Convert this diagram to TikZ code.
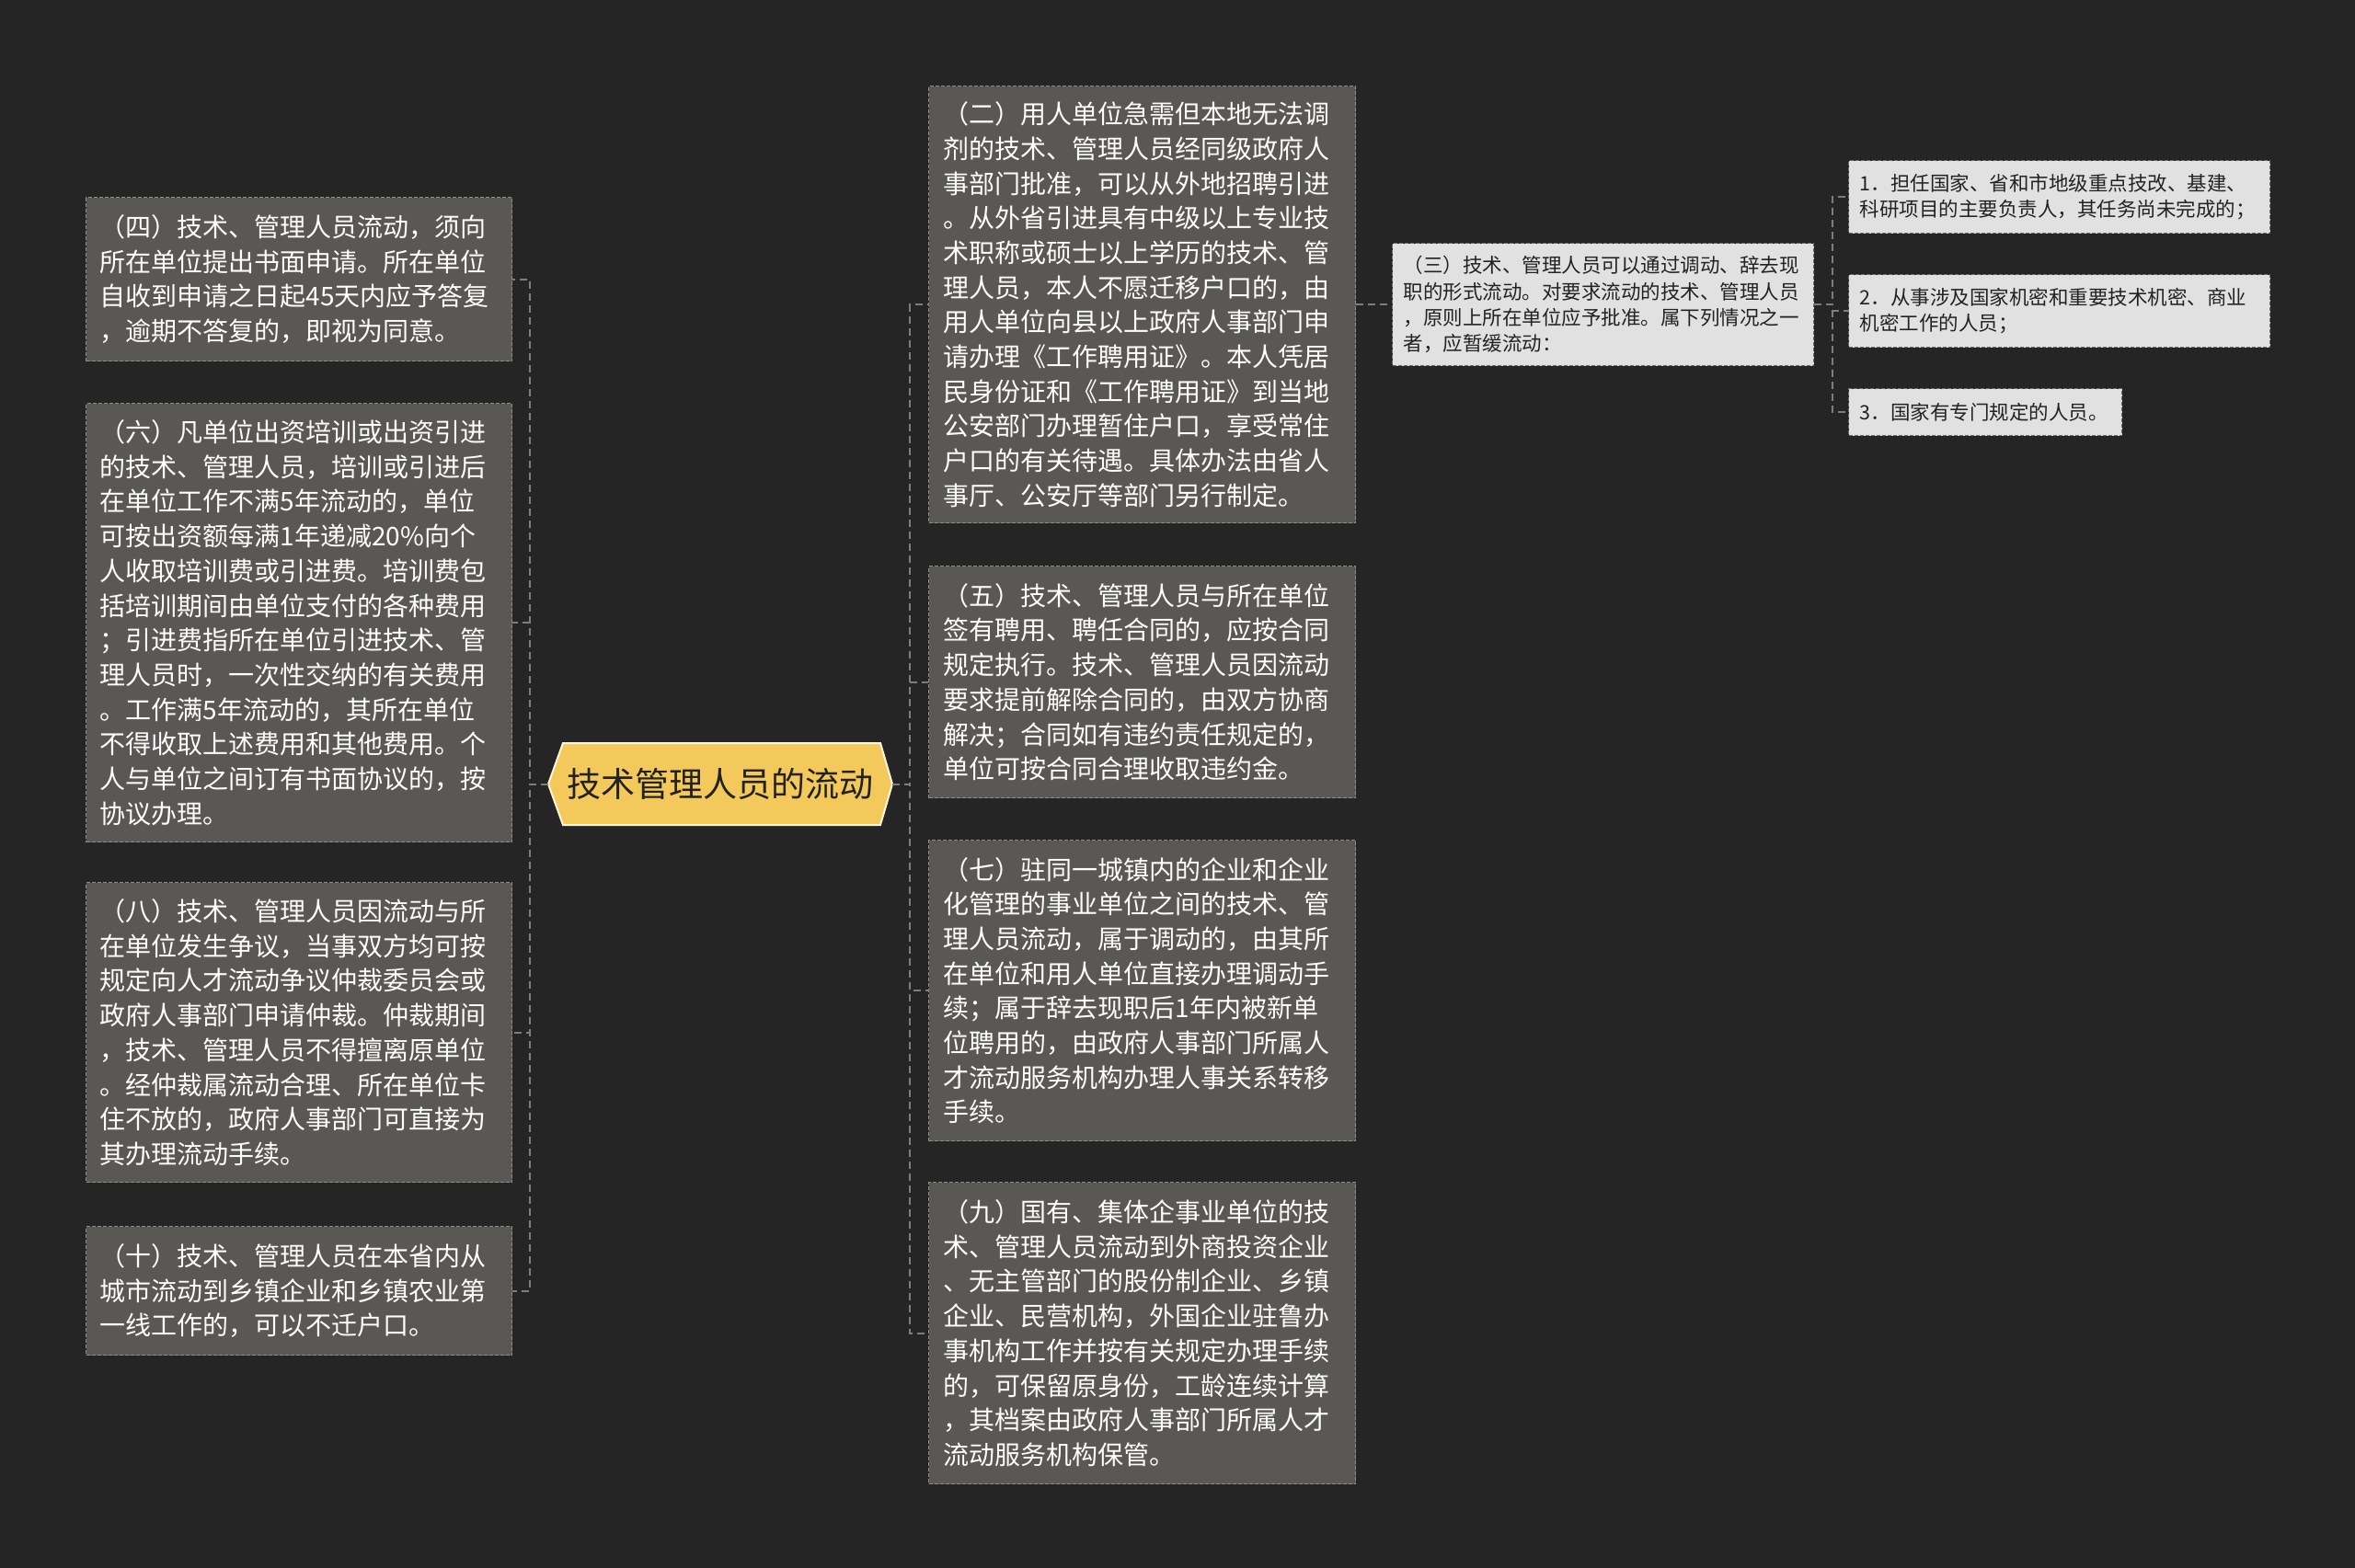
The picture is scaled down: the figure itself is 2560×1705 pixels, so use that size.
\documentclass[tikz,border=0pt]{standalone}
\usepackage{fontspec}
\setmainfont{Noto Sans CJK SC}
\usetikzlibrary{calc}
\definecolor{bgc}{HTML}{252525}
\definecolor{boxfill}{HTML}{5A5855}
\definecolor{boxline}{HTML}{8E8C89}
\definecolor{lightfill}{HTML}{E1E1E1}
\definecolor{lightline}{HTML}{6E6E6E}
\definecolor{rootfill}{HTML}{F4C95B}
\definecolor{rootline}{HTML}{FFF6DC}
\definecolor{conncol}{HTML}{7E7E7E}
\definecolor{darktext}{HTML}{222222}
\tikzset{
  darkbox/.style={draw=boxline, fill=boxfill, dash pattern=on 4pt off 2pt, line width=1.3pt,
    text=white, font=\fontsize{28}{37.7}\selectfont, align=left, anchor=north west,
    inner ysep=0pt},
  lightbox/.style={draw=lightline, fill=lightfill, dash pattern=on 4pt off 2pt, line width=1.3pt,
    text=darktext, font=\fontsize{21.5}{28.3}\selectfont, align=left, anchor=north west,
    inner ysep=0pt, inner xsep=12pt},
  hexfill/.style={fill=rootfill, draw=rootline, line width=2pt},
  rootnode/.style={minimum width=374pt, minimum height=89pt, inner sep=0pt,
    text=darktext, font=\fontsize{37}{44}\selectfont},
  link/.style={draw=conncol, line width=2pt, dash pattern=on 8pt off 5pt}
}
\begin{document}
\begin{tikzpicture}[x=1pt,y=-1pt]
\useasboundingbox (0,0) rectangle (2560,1705);
\fill[bgc] (0,0) rectangle (2560,1705);

% root
\path[hexfill] (596,852.5) -- (612,808) -- (957,808) -- (970,852.5) -- (957,897) -- (612,897) -- cycle;
\node[rootnode] (root) at (783,852.5) {技术管理人员的流动};

% left boxes
\node[darkbox, inner xsep=15pt, text width=433pt, minimum width=463pt, minimum height=178pt] (b4) at (93,214) {%
（四）技术、管理人员流动，须向\\%
所在单位提出书面申请。所在单位\\%
自收到申请之日起45天内应予答复\\%
，逾期不答复的，即视为同意。};

\node[darkbox, inner xsep=15pt, text width=433pt, minimum width=463pt, minimum height=477pt] (b6) at (93,438) {%
（六）凡单位出资培训或出资引进\\%
的技术、管理人员，培训或引进后\\%
在单位工作不满5年流动的，单位\\%
可按出资额每满1年递减20\%向个\\%
人收取培训费或引进费。培训费包\\%
括培训期间由单位支付的各种费用\\%
；引进费指所在单位引进技术、管\\%
理人员时，一次性交纳的有关费用\\%
。工作满5年流动的，其所在单位\\%
不得收取上述费用和其他费用。个\\%
人与单位之间订有书面协议的，按\\%
协议办理。};

\node[darkbox, inner xsep=15pt, text width=433pt, minimum width=463pt, minimum height=326pt] (b8) at (93,959) {%
（八）技术、管理人员因流动与所\\%
在单位发生争议，当事双方均可按\\%
规定向人才流动争议仲裁委员会或\\%
政府人事部门申请仲裁。仲裁期间\\%
，技术、管理人员不得擅离原单位\\%
。经仲裁属流动合理、所在单位卡\\%
住不放的，政府人事部门可直接为\\%
其办理流动手续。};

\node[darkbox, inner xsep=15pt, text width=433pt, minimum width=463pt, minimum height=140pt] (b10) at (93,1333) {%
（十）技术、管理人员在本省内从\\%
城市流动到乡镇企业和乡镇农业第\\%
一线工作的，可以不迁户口。};

% right boxes
\node[darkbox, inner xsep=16pt, text width=432pt, minimum width=464pt, minimum height=475pt] (b2) at (1009,93) {%
（二）用人单位急需但本地无法调\\%
剂的技术、管理人员经同级政府人\\%
事部门批准，可以从外地招聘引进\\%
。从外省引进具有中级以上专业技\\%
术职称或硕士以上学历的技术、管\\%
理人员，本人不愿迁移户口的，由\\%
用人单位向县以上政府人事部门申\\%
请办理《工作聘用证》。本人凭居\\%
民身份证和《工作聘用证》到当地\\%
公安部门办理暂住户口，享受常住\\%
户口的有关待遇。具体办法由省人\\%
事厅、公安厅等部门另行制定。};

\node[darkbox, inner xsep=16pt, text width=432pt, minimum width=464pt, minimum height=252pt] (b5) at (1009,615) {%
（五）技术、管理人员与所在单位\\%
签有聘用、聘任合同的，应按合同\\%
规定执行。技术、管理人员因流动\\%
要求提前解除合同的，由双方协商\\%
解决；合同如有违约责任规定的，\\%
单位可按合同合理收取违约金。};

\node[darkbox, inner xsep=16pt, text width=432pt, minimum width=464pt, minimum height=327pt] (b7) at (1009,913) {%
（七）驻同一城镇内的企业和企业\\%
化管理的事业单位之间的技术、管\\%
理人员流动，属于调动的，由其所\\%
在单位和用人单位直接办理调动手\\%
续；属于辞去现职后1年内被新单\\%
位聘用的，由政府人事部门所属人\\%
才流动服务机构办理人事关系转移\\%
手续。};

\node[darkbox, inner xsep=16pt, text width=432pt, minimum width=464pt, minimum height=328pt] (b9) at (1009,1285) {%
（九）国有、集体企事业单位的技\\%
术、管理人员流动到外商投资企业\\%
、无主管部门的股份制企业、乡镇\\%
企业、民营机构，外国企业驻鲁办\\%
事机构工作并按有关规定办理手续\\%
的，可保留原身份，工龄连续计算\\%
，其档案由政府人事部门所属人才\\%
流动服务机构保管。};

% third level
\node[lightbox, text width=434pt, minimum width=458pt, minimum height=133pt] (b3) at (1513,264) {%
（三）技术、管理人员可以通过调动、辞去现\\%
职的形式流动。对要求流动的技术、管理人员\\%
，原则上所在单位应予批准。属下列情况之一\\%
者，应暂缓流动：};

\node[lightbox, text width=434pt, minimum width=458pt, minimum height=79pt] (s1) at (2009,174) {%
1．担任国家、省和市地级重点技改、基建、\\%
科研项目的主要负责人，其任务尚未完成的；};

\node[lightbox, text width=434pt, minimum width=458pt, minimum height=79pt] (s2) at (2009,298) {%
2．从事涉及国家机密和重要技术机密、商业\\%
机密工作的人员；};

\node[lightbox, text width=273pt, minimum width=297pt, minimum height=51pt] (s3) at (2009,422) {%
3．国家有专门规定的人员。};

% connectors
\foreach \b in {b4,b6,b8,b10}
  \draw[link] (root.west) -- ++(-20,0) |- (\b.east);
\foreach \b in {b2,b5,b7,b9}
  \draw[link] (root.east) -- ++(19,0) |- (\b.west);
\draw[link] (b2.east) -- (b3.west);
\foreach \b in {s1,s2,s3}
  \draw[link] (b3.east) -- ++(20,0) |- (\b.west);
\end{tikzpicture}
\end{document}
